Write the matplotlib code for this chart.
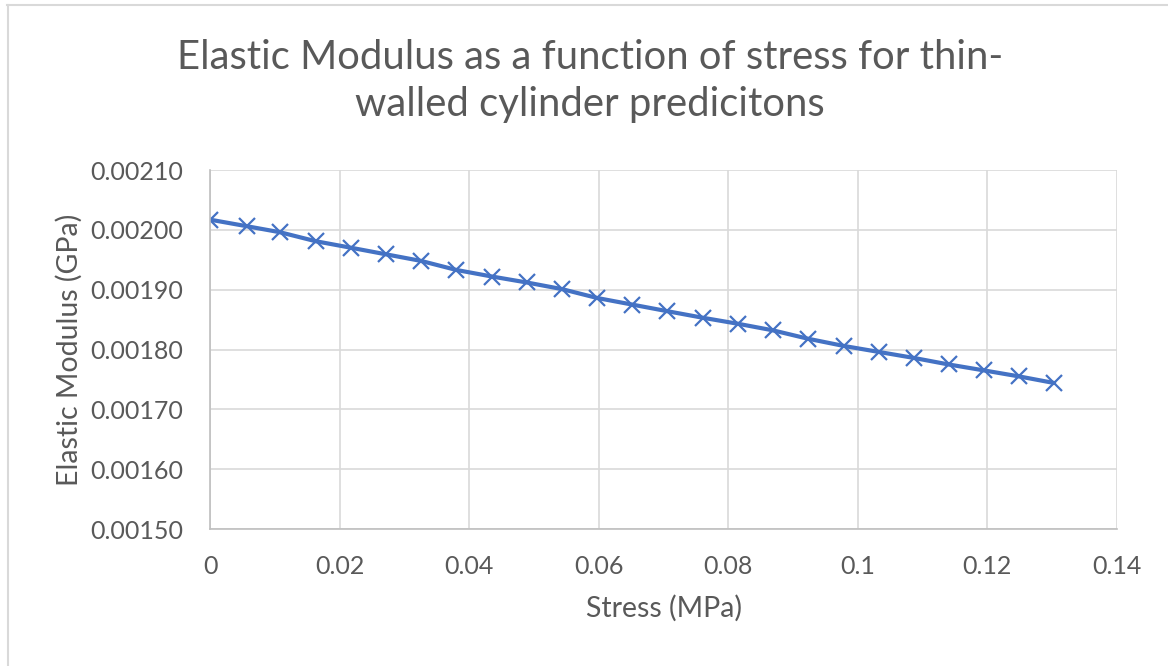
import matplotlib.pyplot as plt
from matplotlib.lines import Line2D
from matplotlib.ticker import FuncFormatter

# stress (MPa) and predicted elastic modulus (GPa)
stress = [0.0, 0.0057, 0.0108, 0.0163, 0.0218, 0.0272, 0.0326, 0.0380, 0.0435,
          0.0489, 0.0543, 0.0598, 0.0652, 0.0706, 0.0761, 0.0815, 0.0869, 0.0923,
          0.0978, 0.1032, 0.1086, 0.1140, 0.1195, 0.1249, 0.1303]
modulus = [0.002017, 0.002006, 0.001996, 0.001981, 0.001970, 0.001959, 0.001948,
           0.001933, 0.001922, 0.001912, 0.001901, 0.001886, 0.001875, 0.001864,
           0.001853, 0.001843, 0.001832, 0.001818, 0.001806, 0.001796, 0.001786,
           0.001775, 0.001765, 0.001755, 0.001744]

x_ticks = [0, 0.02, 0.04, 0.06, 0.08, 0.1, 0.12, 0.14]
y_ticks = [0.0015, 0.0016, 0.0017, 0.0018, 0.0019, 0.0020, 0.0021]

title = "Elastic Modulus as a function of stress for thin-\nwalled cylinder predicitons"

txt = "#595959"
grid = "#D9D9D9"
blue = "#4472C4"

plt.rcParams['font.family'] = ['Lato', 'DejaVu Sans']

fig = plt.figure(figsize=(11.68, 6.66), dpi=100)
ax = fig.add_axes([210 / 1168, 1 - 529 / 666, 907 / 1168, 359 / 666])

ax.plot(stress, modulus, color=blue, lw=3.0, marker='x', ms=11.5, mew=1.6,
        solid_capstyle='round')

ax.set_xlim(0, 0.14)
ax.set_ylim(0.0015, 0.0021)
ax.set_xticks(x_ticks)
ax.set_yticks(y_ticks)
ax.xaxis.set_major_formatter(FuncFormatter(lambda v, p: "0" if v == 0 else f"{v:g}"))
ax.yaxis.set_major_formatter(FuncFormatter(lambda v, p: f"{v:.5f}"))
ax.tick_params(length=0, labelsize=18, colors=txt)
ax.tick_params(axis='x', pad=19)
ax.tick_params(axis='y', pad=19.5)
ax.grid(True, color=grid, lw=1.2)
ax.set_axisbelow(True)
for s in ['top', 'right']:
    ax.spines[s].set_visible(False)
for s in ['left', 'bottom']:
    ax.spines[s].set_color("#BFBFBF")
    ax.spines[s].set_linewidth(1.2)

ax.set_xlabel("Stress (MPa)", fontsize=20.5, color=txt, labelpad=12)
ax.set_ylabel("Elastic Modulus (GPa)", fontsize=20.5, color=txt, labelpad=5)

fig.text(590 / 1168, 1 - 81 / 666, title, ha='center', va='center',
         fontsize=28.8, color=txt, linespacing=1.35)

# chart border
fig.add_artist(Line2D([7 / 1168, 1], [1 - 4.5 / 666, 1 - 4.5 / 666], color=grid, lw=1.5))
fig.add_artist(Line2D([7.5 / 1168, 7.5 / 1168], [0, 1 - 4.5 / 666], color=grid, lw=1.5))

fig.savefig("out.png", dpi=100)
